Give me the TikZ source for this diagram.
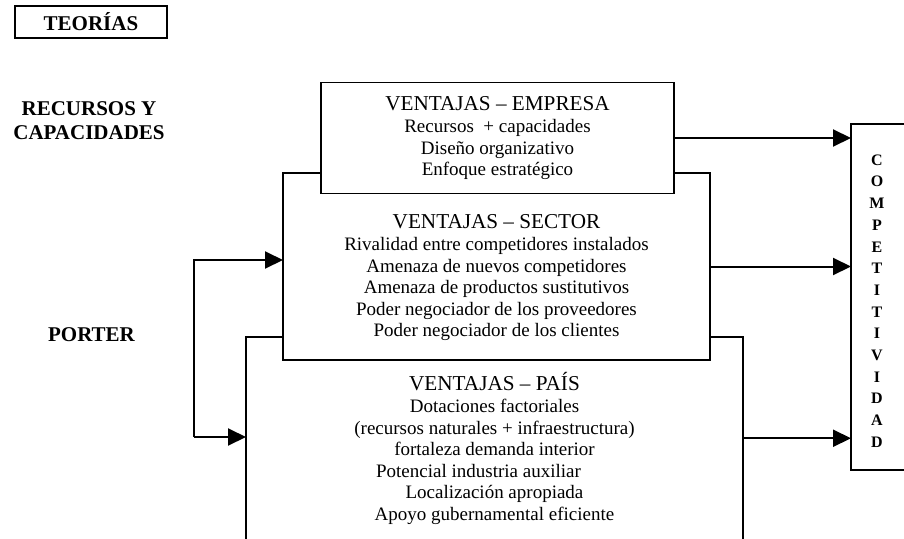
\documentclass[tikz,border=0pt]{standalone}
\usepackage{fontspec}
\setmainfont{Liberation Serif}
\usetikzlibrary{arrows.meta}
\newcommand{\titleFont}{\fontsize{21.2}{24}\selectfont}
\newcommand{\bodyFont}{\fontsize{19}{21.5}\selectfont}
\newcommand{\lblFont}{\fontsize{21}{24}\selectfont\bfseries}
\begin{document}
\begin{tikzpicture}[
            x=1pt, y=-1pt,
            boxNode/.style={draw=black, fill=white, rectangle, line width=1.3pt, inner sep=0pt, outer sep=0pt, align=center, font=\bodyFont},
            txtNode/.style={align=center, font=\bodyFont, inner sep=0pt},
            lblNode/.style={align=center, font=\lblFont, inner sep=0pt},
            arrLine/.style={line width=2pt, -{Triangle[length=18pt, width=17pt]}}
        ]
        \useasboundingbox (0,0) rectangle (904,538);

        % left column
        \node [boxNode, font=\lblFont, minimum width=152pt, minimum height=32pt] (teorias) at (91,22) {TEORÍAS};
        \node [lblNode] (recursos) at (89,121) {RECURSOS Y\\CAPACIDADES};
        \node [lblNode] (porter) at (91.5,335) {PORTER};

        % stacked boxes
        \node [boxNode, minimum width=497pt, minimum height=202.5pt] (pais) at (494.5,438.25) {};
        \node [txtNode] (paisTxt) at (494.5,448) {{\titleFont VENTAJAS – PAÍS}\\[1pt]
            Dotaciones factoriales\\
            (recursos naturales + infraestructura)\\
            fortaleza demanda interior\\
            Potencial industria auxiliar\kern32pt\\
            Localización apropiada\\
            Apoyo gubernamental eficiente};
        \node [boxNode, minimum width=427pt, minimum height=187pt] (sector) at (496.5,266.5) {};
        \node [txtNode] (sectorTxt) at (496.5,277.5) {{\titleFont VENTAJAS – SECTOR}\\[1pt]
            Rivalidad entre competidores instalados\\
            Amenaza de nuevos competidores\\
            Amenaza de productos sustitutivos\\
            Poder negociador de los proveedores\\
            Poder negociador de los clientes};
        \node [boxNode, minimum width=353pt, minimum height=111pt] (empresa) at (497.5,138) {{\titleFont VENTAJAS – EMPRESA}\\[1pt]
            Recursos \ + capacidades\\
            Diseño organizativo\\
            Enfoque estratégico};

        % competitividad
        \node [boxNode, minimum width=61pt, minimum height=346pt] (comp) at (881.5,297) {};
        \node [lblNode, font=\fontsize{16}{21.7}\selectfont\bfseries] (compTxt) at (877,301) {C\\O\\M\\P\\E\\T\\I\\T\\I\\V\\I\\D\\A\\D};

        % arrows
        \coordinate (brTop) at (194,260);
        \coordinate (brBot) at (194,437);
        \draw [arrLine] (brBot) -- (brTop) -- (brTop -| sector.west);
        \draw [arrLine] (brBot) -- (brBot -| pais.west);
        \draw [arrLine] (empresa.east) -- (empresa.east -| comp.west);
        \draw [arrLine] (sector.east) -- (sector.east -| comp.west);
        \draw [arrLine] (pais.east) -- (pais.east -| comp.west);

    \end{tikzpicture}
\end{document}
